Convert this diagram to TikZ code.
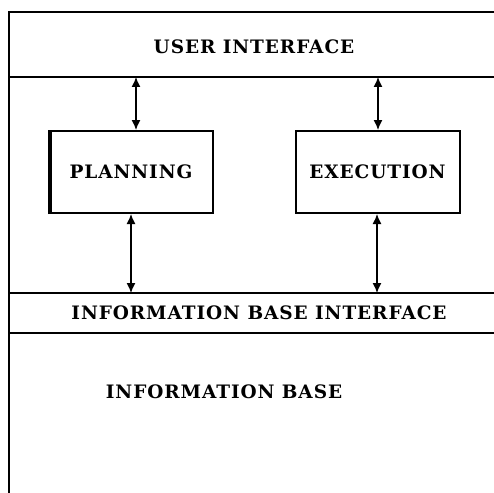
\documentclass[tikz,border=0pt]{standalone}
\usepackage{fontspec}
\setmainfont{DejaVu Serif}[LetterSpace=5]
\usetikzlibrary{arrows.meta}
\begin{document}
\begin{tikzpicture}[x=1pt,y=-1pt,
  frameline/.style={line width=2.2pt, line cap=rect},
  label/.style={font=\fontsize{18.5}{22}\selectfont\bfseries, inner sep=0pt},
  modbox/.style={draw, line width=2pt, minimum width=164pt, minimum height=82pt, font=\fontsize{18.5}{22}\selectfont\bfseries, inner sep=0pt},
  link/.style={line width=1.3pt, {Latex[length=10pt,width=9pt]}-{Latex[length=10pt,width=9pt]}}
]
\useasboundingbox (0,0) rectangle (494,492);
% frame lines
\coordinate (tl) at (9,12);
\coordinate (tr) at (494,12);
\coordinate (bl) at (9,492);
\coordinate (ui) at (9,77);
\coordinate (uir) at (494,77);
\coordinate (ibt) at (9,293);
\coordinate (ibtr) at (494,293);
\coordinate (ibb) at (9,333);
\coordinate (ibbr) at (494,333);
\draw[frameline] (tr) -- (tl) -- (bl);
\draw[frameline] (ui) -- (uir);
\draw[frameline] (ibt) -- (ibtr);
\draw[frameline] (ibb) -- (ibbr);
% texts
\node[label] (uitext) at (254,47) {USER INTERFACE};
\node[label] (ibitext) at (259,313) {INFORMATION BASE INTERFACE};
\node[label] (ibtext) at (224,392) {INFORMATION BASE};
% modules
\node[modbox] (plan) at (131,172) {PLANNING};
\node[modbox] (exec) at (377.5,172) {EXECUTION};
\draw[line width=4pt] ([xshift=1.5pt]plan.south west) -- ([xshift=1.5pt]plan.north west);
% connectors
\coordinate (pu) at (136,77);
\coordinate (eu) at (378,77);
\coordinate (pd) at (131,293);
\coordinate (ed) at (377,293);
\draw[link] (pu) -- (pu |- plan.north);
\draw[link] (eu) -- (eu |- exec.north);
\draw[link] (pd |- plan.south) -- (pd);
\draw[link] (ed |- exec.south) -- (ed);
\end{tikzpicture}
\end{document}
